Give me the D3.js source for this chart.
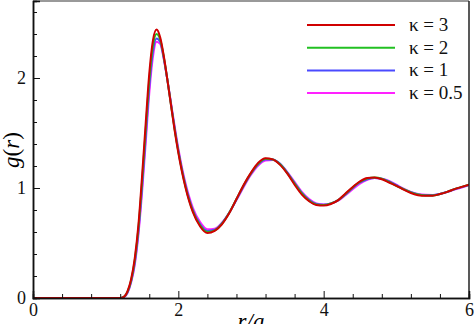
<!DOCTYPE html>
<html><head><meta charset="utf-8">
<script src="https://cdn.jsdelivr.net/npm/d3@7"></script>
</head><body style="margin:0;background:#fff">
<svg id="c" width="474" height="324" font-family="Liberation Serif" style="display:block"></svg>
<script>
const rVals = [0,1.2,1.25,1.3,1.35,1.4,1.45,1.5,1.55,1.6,1.65,1.7,1.75,1.8,1.85,1.9,1.95,2.0,2.1,2.2,2.3,2.4,2.5,2.6,2.7,2.8,2.9,3.0,3.1,3.2,3.3,3.4,3.5,3.6,3.7,3.8,3.9,4.0,4.1,4.2,4.3,4.4,4.5,4.6,4.7,4.8,4.9,5.0,5.1,5.2,5.3,5.4,5.5,5.6,5.7,5.8,5.9,6.0];
const gK3 = [0,0,0.01,0.06,0.17,0.36,0.66,1.10,1.58,2.04,2.34,2.44,2.37,2.20,1.98,1.75,1.52,1.32,1.00,0.78,0.65,0.59,0.61,0.67,0.77,0.90,1.03,1.14,1.23,1.27,1.26,1.21,1.13,1.03,0.94,0.88,0.845,0.84,0.855,0.89,0.95,1.01,1.06,1.09,1.095,1.08,1.05,1.02,0.985,0.955,0.935,0.93,0.93,0.945,0.965,0.99,1.01,1.03];
const gK2 = [0,0,0.01,0.055,0.16,0.34,0.63,1.05,1.52,1.98,2.29,2.40,2.35,2.19,1.98,1.75,1.53,1.33,1.01,0.79,0.66,0.60,0.615,0.675,0.775,0.90,1.025,1.135,1.22,1.265,1.26,1.215,1.135,1.04,0.95,0.885,0.85,0.845,0.86,0.89,0.945,1.005,1.055,1.085,1.095,1.085,1.055,1.02,0.99,0.96,0.94,0.932,0.932,0.945,0.965,0.99,1.01,1.03];
const gK1 = [0,0,0.008,0.05,0.15,0.32,0.60,1.00,1.46,1.92,2.24,2.36,2.33,2.18,1.98,1.76,1.54,1.34,1.02,0.80,0.67,0.61,0.62,0.68,0.775,0.895,1.02,1.13,1.215,1.26,1.26,1.22,1.14,1.045,0.955,0.89,0.855,0.848,0.86,0.89,0.94,1.0,1.05,1.08,1.092,1.085,1.06,1.025,0.99,0.962,0.942,0.935,0.935,0.945,0.965,0.988,1.008,1.028];
const gK05 = [0,0,0.006,0.045,0.14,0.30,0.57,0.95,1.40,1.86,2.19,2.33,2.31,2.17,1.98,1.77,1.56,1.36,1.04,0.82,0.69,0.625,0.63,0.685,0.775,0.89,1.01,1.12,1.205,1.25,1.255,1.22,1.145,1.055,0.965,0.90,0.86,0.85,0.86,0.885,0.935,0.99,1.04,1.075,1.09,1.085,1.065,1.03,0.995,0.965,0.945,0.938,0.937,0.945,0.963,0.985,1.005,1.025];
const seriesNames = ["κ = 3","κ = 2","κ = 1","κ = 0.5"];
const seriesColors = ["#d00000","#22c022","#4a4aff","#ff22ff"];
const seriesData = [gK3,gK2,gK1,gK05];
const xTicks = [0,2,4,6];
const yTicks = [0,1,2];

const FONT = "Liberation Serif";
const svg = d3.select("#c");
const L=33,R=469,T=1,B=298;
const x = d3.scaleLinear().domain([0,6]).range([L,R]);
const y = d3.scaleLinear().domain([0,2.7]).range([B,T]);

const line = d3.line().x((d,i)=>x(rVals[i])).y(d=>y(d)).curve(d3.curveMonotoneX);
svg.append("clipPath").attr("id","cp").append("rect").attr("x",L).attr("y",T).attr("width",R-L).attr("height",B-T);
const g = svg.append("g").attr("clip-path","url(#cp)");
for (let i=seriesData.length-1;i>=0;i--){
  g.append("path").attr("d",line(seriesData[i])).attr("fill","none")
   .attr("stroke",seriesColors[i]).attr("stroke-width",2);
}

svg.append("line").attr("x1",L).attr("x2",R).attr("y1",T).attr("y2",T).attr("stroke","#999").attr("stroke-width",2);
svg.append("line").attr("x1",R).attr("x2",R).attr("y1",T).attr("y2",B).attr("stroke","#222").attr("stroke-width",1.5);

const xMinor = d3.range(0,6.0001,0.4).filter(v=>!xTicks.some(t=>Math.abs(t-v)<1e-6));
const yMinor = d3.range(0,2.7,0.2).filter(v=>!yTicks.some(t=>Math.abs(t-v)<1e-6));
const ax = svg.append("g").attr("transform",`translate(0,${B})`)
  .call(d3.axisBottom(x).tickValues(xTicks).tickSize(-7).tickPadding(5).tickFormat(d3.format("d")));
const axm = svg.append("g").attr("transform",`translate(0,${B})`)
  .call(d3.axisBottom(x).tickValues(xMinor).tickSize(-4).tickFormat(""));
const ay = svg.append("g").attr("transform",`translate(${L},0)`)
  .call(d3.axisLeft(y).tickValues(yTicks).tickSize(-7).tickPadding(6).tickFormat(d3.format("d")));
const aym = svg.append("g").attr("transform",`translate(${L},0)`)
  .call(d3.axisLeft(y).tickValues(yMinor).tickSize(-4).tickFormat(""));
[ax,axm,ay,aym].forEach(a=>{
  a.attr("font-family",FONT).attr("font-size",18);
  a.selectAll(".domain").attr("stroke","#111").attr("stroke-width",1.5);
  a.selectAll(".tick line").attr("stroke","#111").attr("stroke-width",1);
  a.selectAll("text").attr("fill","#111");
});
ay.selectAll("text").attr("dx","-1");

svg.append("text").attr("x",251).attr("y",329).attr("text-anchor","middle")
  .attr("font-family",FONT).attr("font-size",23).attr("font-style","italic").text("r/a");
const yl = svg.append("text").attr("transform","translate(19,150) rotate(-90)").attr("text-anchor","middle")
  .attr("font-family",FONT).attr("font-size",23);
yl.append("tspan").attr("font-style","italic").text("g");
yl.append("tspan").text("(");
yl.append("tspan").attr("font-style","italic").text("r");
yl.append("tspan").text(")");

const leg = svg.append("g").attr("font-family",FONT);
seriesNames.forEach((n,i)=>{
  const yy = 25 + i*22.7;
  leg.append("line").attr("x1",307).attr("x2",395).attr("y1",yy).attr("y2",yy)
    .attr("stroke",seriesColors[i]).attr("stroke-width",2);
  leg.append("text").attr("x",409).attr("y",yy+6).attr("font-size",19).attr("fill","#111").text(n);
});
</script></body></html>
